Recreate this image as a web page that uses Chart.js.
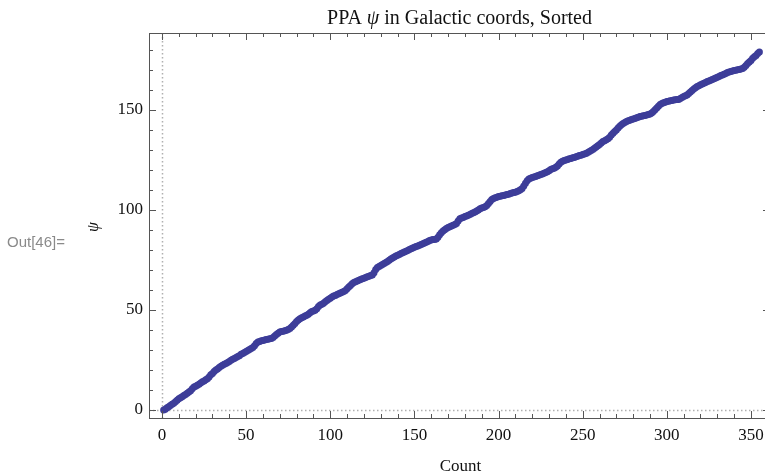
<!DOCTYPE html>
<html>
<head>
<meta charset="utf-8">
<script src="https://cdn.jsdelivr.net/npm/chart.js@4/dist/chart.umd.min.js"></script>
<style>
  html, body { margin: 0; padding: 0; background: #fff; overflow: hidden; }
  #wrap { position: relative; width: 790px; height: 474px; }
</style>
</head>
<body>
<div id="wrap"><canvas id="ppa" width="790" height="474"></canvas></div>
<script>
// sorted PPA psi values (degrees), one per source
const psi = [
  0.0, 0.4, 1.1, 1.6, 2.3, 2.9, 3.4, 4.1, 4.9, 5.6,
  6.1, 6.6, 7.3, 7.8, 8.4, 9.0, 9.6, 10.6, 11.5, 11.9,
  12.4, 12.9, 13.5, 14.1, 14.5, 15.1, 15.6, 16.5, 17.6, 18.3,
  19.2, 20.0, 20.5, 21.3, 21.9, 22.4, 22.9, 23.2, 23.8, 24.3,
  24.9, 25.4, 25.8, 26.2, 26.7, 27.1, 27.9, 28.3, 28.8, 29.3,
  29.8, 30.2, 30.8, 31.3, 32.1, 33.2, 34.0, 34.3, 34.6, 34.8,
  35.0, 35.2, 35.4, 35.6, 35.8, 36.3, 37.0, 37.7, 38.4, 39.0,
  39.2, 39.4, 39.6, 39.9, 40.3, 40.8, 41.5, 42.4, 43.3, 44.2,
  45.0, 45.6, 46.1, 46.5, 47.0, 47.4, 47.9, 48.6, 49.2, 49.5,
  49.9, 50.6, 51.8, 52.5, 52.9, 53.4, 54.1, 54.8, 55.4, 55.9,
  56.5, 57.0, 57.3, 57.7, 58.1, 58.5, 58.9, 59.2, 59.8, 60.6,
  61.5, 62.3, 63.1, 63.7, 64.1, 64.5, 64.9, 65.3, 65.6, 65.9,
  66.2, 66.6, 66.9, 67.2, 67.5, 68.6, 70.2, 71.3, 71.8, 72.3,
  72.8, 73.2, 73.7, 74.3, 74.9, 75.5, 76.0, 76.5, 77.0, 77.4,
  77.8, 78.2, 78.6, 79.0, 79.4, 79.8, 80.2, 80.6, 81.0, 81.4,
  81.7, 82.0, 82.4, 82.7, 83.1, 83.5, 83.9, 84.3, 84.7, 85.0,
  85.2, 85.3, 85.5, 86.4, 87.6, 88.6, 89.5, 90.1, 90.7, 91.2,
  91.6, 92.0, 92.4, 92.8, 93.3, 94.5, 95.6, 96.0, 96.3, 96.7,
  97.0, 97.4, 97.8, 98.2, 98.6, 99.0, 99.5, 100.0, 100.6, 101.0,
  101.3, 101.6, 102.2, 103.2, 104.3, 105.2, 105.8, 106.1, 106.4, 106.7,
  106.9, 107.1, 107.3, 107.5, 107.7, 107.9, 108.2, 108.5, 108.7, 108.9,
  109.2, 109.6, 110.1, 110.8, 112.0, 113.4, 114.6, 115.5, 115.9, 116.2,
  116.5, 116.8, 117.1, 117.4, 117.7, 118.0, 118.4, 118.7, 119.1, 119.6,
  120.2, 120.6, 120.9, 121.4, 122.0, 123.0, 123.9, 124.4, 124.7, 125.0,
  125.3, 125.6, 125.8, 126.1, 126.3, 126.6, 126.9, 127.2, 127.4, 127.7,
  128.0, 128.3, 128.8, 129.3, 129.7, 130.3, 130.9, 131.5, 132.1, 132.8,
  133.5, 134.2, 134.6, 135.1, 135.6, 136.4, 137.5, 138.4, 139.3, 140.0,
  141.0, 141.9, 142.6, 143.3, 143.8, 144.2, 144.6, 144.9, 145.2, 145.5,
  145.8, 146.1, 146.4, 146.7, 146.9, 147.1, 147.3, 147.5, 147.7, 148.0,
  148.5, 149.2, 150.1, 151.0, 151.9, 152.7, 153.3, 153.6, 153.9, 154.2,
  154.4, 154.6, 154.8, 155.0, 155.1, 155.2, 155.3, 155.7, 156.2, 156.7,
  157.1, 157.5, 158.2, 159.0, 159.8, 160.5, 161.1, 161.7, 162.1, 162.6,
  163.0, 163.4, 163.8, 164.2, 164.5, 164.9, 165.3, 165.6, 166.0, 166.4,
  166.8, 167.2, 167.5, 167.9, 168.3, 168.7, 169.0, 169.3, 169.5, 169.7,
  169.9, 170.1, 170.3, 170.5, 170.8, 171.4, 172.3, 173.2, 174.0, 174.8,
  175.9, 176.6, 177.3, 178.2, 179.0
];
// count runs 1..N
const counts = psi.map((_, i) => i + 1);

const xMajor = [0, 50, 100, 150, 200, 250, 300, 350];
const yMajor = [0, 50, 100, 150];
const xMinorStep = 10;
const yMinorStep = 10;

const serif = '"Liberation Serif", "Times New Roman", serif';
const frameColor = '#555555';

// frame, inward ticks, dotted zero lines and text labels, Mathematica style
const framePlugin = {
  id: 'frame',
  beforeDatasetsDraw(chart) {
    const { ctx, chartArea: a, scales: { x, y } } = chart;
    ctx.save();
    ctx.strokeStyle = '#b0b0b0';
    ctx.lineWidth = 1.5;
    ctx.setLineDash([1.5, 2.5]);
    const x0 = Math.round(x.getPixelForValue(0)) + 0.5;
    const y0 = Math.round(y.getPixelForValue(0)) + 0.5;
    ctx.beginPath();
    ctx.moveTo(x0, a.top); ctx.lineTo(x0, a.bottom);
    ctx.moveTo(a.left, y0); ctx.lineTo(a.right, y0);
    ctx.stroke();
    ctx.restore();
  },
  afterDraw(chart) {
    const { ctx, chartArea: a, scales: { x, y } } = chart;
    ctx.save();
    ctx.strokeStyle = frameColor;
    ctx.lineWidth = 1;
    ctx.strokeRect(a.left + 0.5, a.top + 0.5, a.right - a.left - 1, a.bottom - a.top);

    ctx.beginPath();
    for (let v = 0; v <= x.max; v += xMinorStep) {
      const px = Math.round(x.getPixelForValue(v)) + 0.5;
      const len = xMajor.includes(v) ? 7 : 4;
      ctx.moveTo(px, a.bottom); ctx.lineTo(px, a.bottom - len);
      ctx.moveTo(px, a.top); ctx.lineTo(px, a.top + len);
    }
    for (let v = 0; v <= y.max; v += yMinorStep) {
      const py = Math.round(y.getPixelForValue(v)) + 0.5;
      const len = yMajor.includes(v) ? 7 : 4;
      ctx.moveTo(a.left, py); ctx.lineTo(a.left + len, py);
      ctx.moveTo(a.right, py); ctx.lineTo(a.right - len, py);
    }
    ctx.stroke();

    // title with italic psi
    const cx = (a.left + a.right) / 2;
    const parts = [
      ['PPA ', 'normal'],
      ['\u03c8', 'italic'],
      [' in Galactic coords, Sorted', 'normal']
    ];
    ctx.fillStyle = '#111';
    ctx.textBaseline = 'alphabetic';
    ctx.textAlign = 'left';
    let total = 0;
    parts.forEach(([t, s]) => { ctx.font = s + ' 20px ' + serif; total += ctx.measureText(t).width; });
    let tx = cx - total / 2;
    parts.forEach(([t, s]) => {
      ctx.font = s + ' 20px ' + serif;
      ctx.fillText(t, tx, 24);
      tx += ctx.measureText(t).width;
    });

    // axis labels
    ctx.font = '17px ' + serif;
    ctx.textAlign = 'center';
    ctx.fillText('Count', (x.getPixelForValue(0) + x.getPixelForValue(350)) / 2 + 4, 471);

    ctx.save();
    ctx.translate(94, 227);
    ctx.rotate(-Math.PI / 2);
    ctx.font = 'italic 16px ' + serif;
    ctx.textBaseline = 'middle';
    ctx.fillText('\u03c8', 0, 0);
    ctx.restore();

    ctx.font = '15px "Liberation Sans", Arial, sans-serif';
    ctx.fillStyle = '#8a8a8a';
    ctx.textAlign = 'left';
    ctx.textBaseline = 'middle';
    ctx.fillText('Out[46]=', 7, 243);
    ctx.restore();
  }
};

new Chart(document.getElementById('ppa'), {
  type: 'scatter',
  data: {
    datasets: [{
      data: counts.map((c, i) => ({ x: c, y: psi[i] })),
      backgroundColor: 'rgb(61, 61, 153)',
      borderWidth: 0,
      pointRadius: 3.5,
      pointHoverRadius: 3.5
    }]
  },
  options: {
    responsive: false,
    animation: false,
    devicePixelRatio: 1,
    layout: { padding: { top: 33, right: 20, left: 0, bottom: 0 } },
    plugins: {
      legend: { display: false },
      tooltip: { enabled: false }
    },
    scales: {
      x: {
        type: 'linear',
        min: -7.7,
        max: 361.3,
        grid: { display: false, drawTicks: false },
        border: { display: false },
        afterFit(s) { s.height = 56; },
        afterBuildTicks(s) { s.ticks = xMajor.map(v => ({ value: v })); },
        ticks: {
          includeBounds: false,
          padding: 7,
          color: '#111',
          font: { family: serif, size: 17 }
        }
      },
      y: {
        min: -4,
        max: 188.5,
        grid: { display: false, drawTicks: false },
        border: { display: false },
        afterFit(s) { s.width = 149; },
        afterBuildTicks(s) { s.ticks = yMajor.map(v => ({ value: v })); },
        ticks: {
          includeBounds: false,
          padding: 6,
          color: '#111',
          font: { family: serif, size: 17 }
        }
      }
    }
  },
  plugins: [framePlugin]
});
</script>
</body>
</html>
